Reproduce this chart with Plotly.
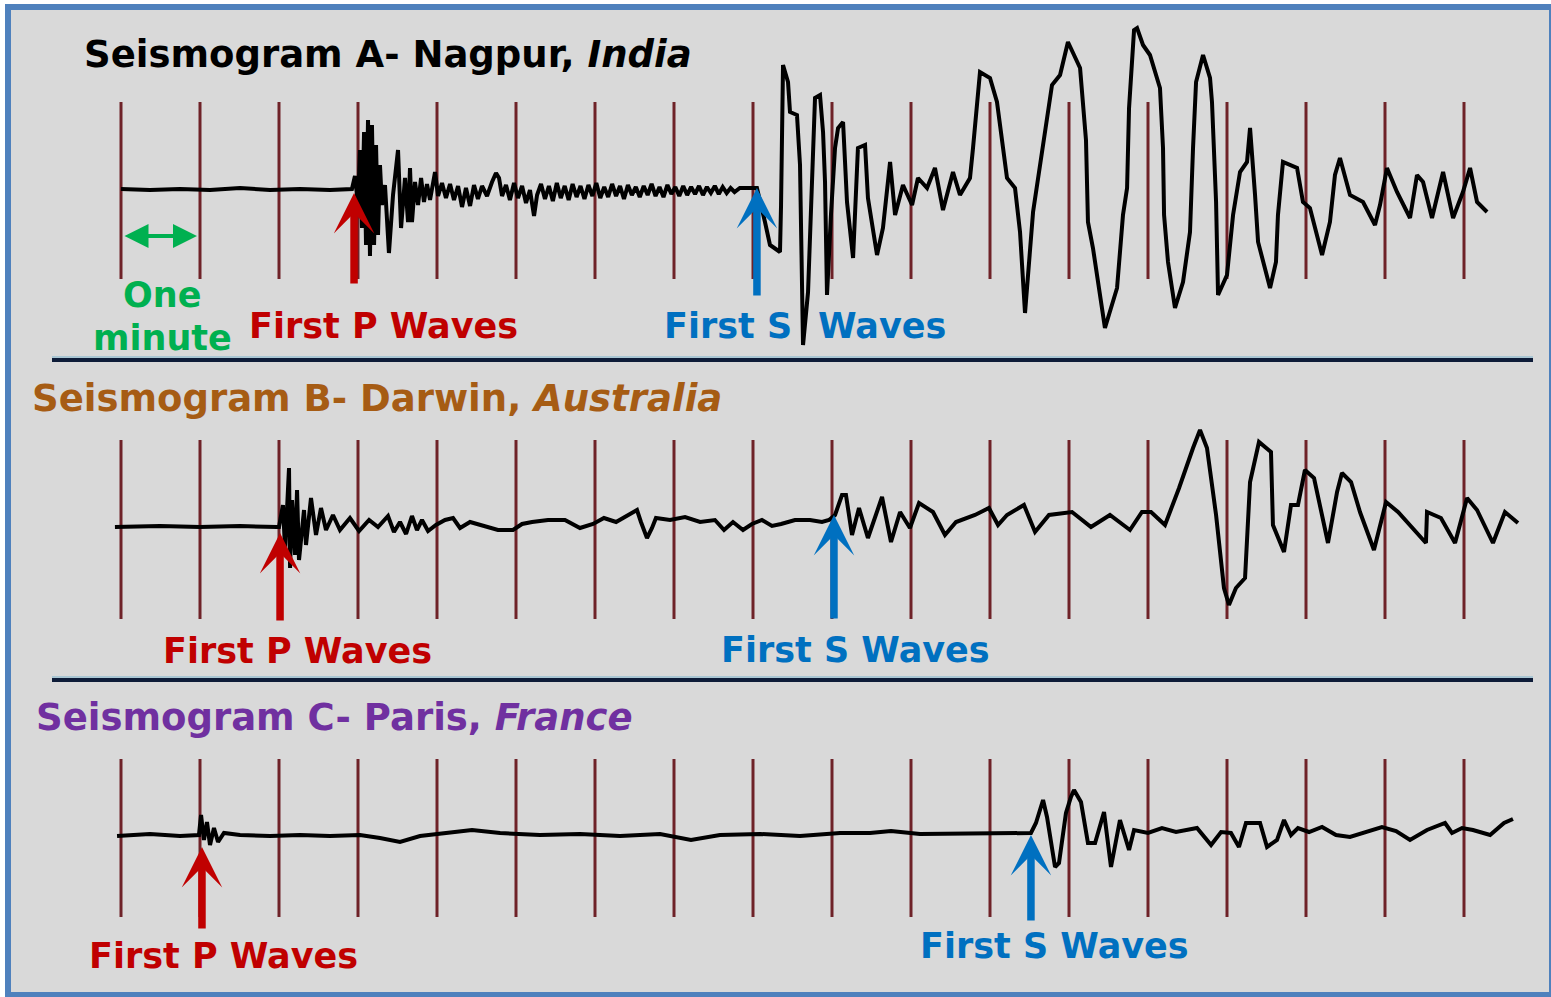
import plotly.graph_objects as go

W, H = 1551, 997

# ---- time axis: seconds after the start of each record, one division per minute
minute_marks = list(range(0, 1021, 60))

# ---- Seismogram A: Nagpur, India (time s, trace amplitude)
a_time = [
    0, 22.0, 44.8, 67.6, 90.4, 113.2, 135.9, 158.7, 175.4, 177.7,
    180.0, 181.5, 183.0, 184.6, 186.1, 187.6, 189.1, 190.6, 192.2, 193.7,
    195.2, 196.7, 198.2, 200.5, 203.5, 206.6, 210.4, 212.7, 215.7, 218.0,
    219.5, 221.0, 223.3, 225.6, 227.9, 230.1, 232.4, 234.7, 238.5, 240.8,
    243.8, 246.8, 249.9, 252.9, 256.0, 259.0, 262.0, 265.1, 268.1, 271.1,
    274.2, 278.0, 281.8, 284.8, 287.1, 289.4, 292.4, 295.4, 298.5, 301.5,
    304.6, 307.6, 310.6, 313.7, 316.0, 319.0, 322, 325, 328, 331,
    334, 337, 340, 343, 346, 349, 352, 355, 358, 361,
    364, 367, 370, 373, 376, 379, 382, 385, 388, 391,
    394, 397, 400, 403, 406, 409, 412, 415, 418, 421,
    424, 427, 430, 433, 436, 439, 442, 445, 448, 451,
    454, 457, 460, 463, 466, 470, 476, 483.0, 489.1, 492.9,
    500.5, 501.3, 502.8, 506.6, 508.1, 513.4, 515.7, 518.0, 521.8, 524.8,
    527.1, 530.9, 533.2, 534.7, 536.2, 539.2, 542.3, 544.6, 548.4, 551.4,
    556.0, 559.7, 565.1, 567.3, 574.2, 578.7, 584.1, 587.9, 593.9, 600.8,
    605.3, 612.2, 618.2, 624.3, 631.9, 637.2, 644.8, 647.1, 652.4, 660.0,
    665.3, 672.9, 679.0, 682.8, 686.6, 692.7, 699.5, 707.1, 713.2, 719.2,
    728.4, 732.9, 734.4, 738.2, 747.3, 756.5, 761.0, 764.1, 765.6, 769.4,
    771.7, 776.2, 781.5, 789.1, 791.4, 792.2, 795.2, 800.5, 806.6, 811.9,
    814.2, 816.5, 821.8, 827.1, 828.6, 831.7, 833.2, 840.0, 844.6, 849.9,
    855.2, 857.5, 861.3, 863.6, 872.7, 877.2, 878.7, 882.5, 893.2, 897.7,
    903.0, 912.2, 918.2, 922.0, 925.8, 933.4, 943.3, 952.4, 956.2, 961.5,
    969.1, 979.0, 984.3, 988.9, 995.7, 1004.1, 1011.7, 1019.2, 1024.6, 1029.9,
    1037.5,
]
a_amp = [
    0, -1, 0, -1, 1, -1, 0, -1, 0, 13,
    -16, 39, -39, 57, -56, 69, -67, 64, -56, 44,
    -46, 24, -16, 4, -64, -6, 39, -39, 11, -33,
    21, -33, 7, -16, 11, -13, 5, -11, 17, -7,
    6, -9, 5, -11, 3, -18, 1, -17, 4, -10,
    3, -7, 7, 16, 11, -7, 4, -11, 6, -9,
    3, -14, -1, -27, -6, 5, -10, 3, -12, 6,
    -9, 3, -11, 5, -8, 3, -10, 4, -7, 6,
    -9, 2, -8, 5, -7, 3, -10, 4, -6, 2,
    -8, 3, -6, 5, -7, 2, -8, 4, -5, 2,
    -7, 3, -6, 2, -5, 3, -6, 2, -4, 3,
    -5, 2, -4, 1, -3, 1, 1, 1, -33, -56,
    -63, -16, 124, 107, 77, 74, 24, -156, -103, 24,
    91, 94, 57, 7, -106, -26, 41, 61, 67, -13,
    -69, 41, 44, -9, -66, -39, 27, -26, 4, -16,
    11, 1, 21, -21, 17, -6, 11, 41, 117, 111,
    87, 11, 1, -43, -124, -23, 34, 104, 114, 147,
    121, 49, -33, -59, -139, -99, -26, 1, 81, 159,
    161, 144, 134, 101, 41, -26, -73, -119, -93, -43,
    41, 107, 134, 111, 87, -13, -106, -86, -26, 17,
    27, 61, -6, -53, -99, -73, -26, 27, 21, -13,
    -19, -66, -33, 14, 31, -6, -13, -36, -16, 21,
    -3, -29, 14, 7, -29, 17, -29, -3, 21, -13,
    -23,
]

# ---- Seismogram B: Darwin, Australia
b_time = [
    -4.6, 29.6, 60.0, 90.4, 118.5, 120.0, 123.0, 124.6, 127.6, 128.4,
    129.9, 132.2, 133.7, 135.2, 139.0, 140.5, 144.3, 148.1, 151.9, 155.7,
    161.0, 166.3, 173.9, 180.8, 188.4, 195.2, 202.8, 207.3, 211.9, 216.5,
    221.0, 224.8, 228.6, 233.2, 239.2, 246.1, 252.2, 257.5, 265.1, 275.7,
    286.3, 297.7, 304.6, 312.2, 324.3, 337.2, 348.6, 358.5, 366.8, 376.0,
    385.1, 391.9, 394.9, 399.5, 403.3, 406.3, 417.0, 428.4, 439.8, 451.1,
    458.0, 464.8, 472.4, 479.2, 486.8, 494.4, 501.3, 511.9, 523.3, 532.4,
    537.7, 542.3, 547.6, 550.6, 555.2, 560.5, 567.3, 578.0, 584.8, 591.7,
    599.2, 606.1, 616.7, 625.8, 634.2, 648.6, 659.2, 666.1, 672.9, 685.8,
    694.2, 704.8, 722.3, 736.7, 751.1, 766.3, 775.4, 782.3, 792.9, 803.6,
    814.2, 819.5, 824.8, 831.7, 837.7, 841.5, 846.8, 853.7, 857.5, 864.3,
    873.4, 874.9, 883.3, 888.6, 893.9, 899.2, 906.1, 916.7, 923.6, 927.3,
    934.2, 941.0, 951.6, 960.8, 969.9, 980.5, 991.1, 991.9, 1002.5, 1013.2,
    1022.3, 1029.9, 1042.0, 1051.1, 1061.0,
]
b_amp = [
    -1, 0, -1, 0, -1, -1, 21, -24, 58, -42,
    26, -29, 36, -34, 16, -19, 28, -9, 18, -4,
    11, -4, 8, -5, 6, -1, 10, -6, 4, -8,
    10, -4, 6, -5, 1, 6, 8, -2, 4, 0,
    -4, -4, 2, 4, 6, 6, -2, 2, 8, 4,
    11, 16, 4, -12, -2, 8, 6, 9, 4, 6,
    -4, 4, -4, 2, 6, 0, 2, 6, 6, 4,
    6, 11, 31, 31, -9, 18, -12, 29, -16, 14,
    -2, 23, 14, -9, 4, 11, 18, 1, 11, 21,
    -6, 11, 14, -1, 11, -4, 14, 14, 1, 38,
    78, 96, 78, 11, -62, -79, -62, -52, 44, 84,
    74, 1, -26, 21, 21, 56, 48, -17, 34, 53,
    44, 14, -24, 24, 14, -2, -17, 14, 8, -17,
    28, 16, -17, 14, 3,
]

# ---- Seismogram C: Paris, France
c_time = [
    -3.0, 22.0, 44.8, 59.2, 60.8, 63.0, 65.3, 67.6, 70.6, 73.7,
    78.2, 90.4, 113.2, 136.0, 158.7, 181.5, 196.7, 211.9, 227.1, 249.9,
    266.6, 287.9, 318.2, 348.6, 379.0, 409.4, 432.9, 454.9, 485.3, 515.7,
    546.1, 568.9, 584.8, 606.8, 637.2, 667.6, 691.1, 694.9, 700.3, 703.3,
    709.4, 712.4, 717.7, 721.5, 723.8, 729.1, 734.4, 739.8, 746.6, 751.9,
    758.7, 765.6, 769.4, 780.0, 790.6, 801.3, 817.2, 827.9, 835.5, 843.0,
    849.1, 854.4, 865.1, 870.4, 878.0, 883.3, 888.6, 893.9, 902.3, 912.2,
    922.8, 933.4, 944.1, 957.7, 968.4, 979.0, 991.9, 1005.6, 1010.9, 1018.5,
    1026.8, 1039.8, 1050.4, 1057.2,
]
c_amp = [
    -1, 1, -1, 0, 20, -5, 13, -10, 7, -7,
    2, 0, -1, 0, -1, 0, -3, -7, -1, 2,
    5, 2, 0, 1, -1, 1, -5, 0, 1, -1,
    2, 2, 4, 1, 1, 2, 2, 12, 35, 18,
    -32, -28, 22, 38, 45, 33, -8, -8, 23, -32,
    15, -15, 5, 2, 7, 3, 7, -10, 3, 2,
    -12, 12, 12, -12, -5, 15, 0, 7, 3, 8,
    0, -2, 2, 8, 4, -5, 5, 12, 2, 7,
    5, 0, 12, 16,
]

# ---- station labels and phase picks (s) with arrow tip / tail amplitudes
stations = ["Nagpur", "Darwin", "Paris"]
countries = ["India", "Australia", "France"]
letters = ["A", "B", "C"]
title_colors = ["#000000", "#a65c14", "#7030a0"]
p_arrival = [177.0, 120.8, 61.5]
p_tip = [-4, -7, -12]
p_tail = [-96, -96, -95]
s_arrival = [483.0, 541.5, 691.1]
s_tip = [1, 11, 0]
s_tail = [-108, -94, -87]

# vertical extent of the minute divisions in each record
div_top = [87, 86, 76]
div_bottom = [-90, -93, -82]

RED = "#c00000"
BLUE = "#0070c0"
GREEN = "#00b050"
DIV = "#6e2228"
BG = "#d9d9d9"
FRAME = "#4f81bd"
NAVY = "#0e1c38"

# pixel bands of the three records (top, bottom, baseline row)
bands = [(0, 360, 189), (360, 680, 526), (680, 997, 835)]

fig = go.Figure()
yrefs = ["y", "y2", "y3"]
traces = [(a_time, a_amp), (b_time, b_amp), (c_time, c_amp)]

for i, (t, amp) in enumerate(traces):
    xs, ys = [], []
    for m in minute_marks:
        xs += [m, m, None]
        ys += [div_top[i], div_bottom[i], None]
    fig.add_trace(go.Scatter(x=xs, y=ys, mode="lines", yaxis=yrefs[i],
                             line=dict(color=DIV, width=3),
                             hoverinfo="skip", showlegend=False))
    fig.add_trace(go.Scatter(x=t, y=amp, mode="lines", yaxis=yrefs[i],
                             line=dict(color="black", width=4),
                             showlegend=False))

# axes: 1 minute = 79 px, record start at x = 121 px
px_per_s = 79 / 60
x_range = [-121 / px_per_s, (W - 121) / px_per_s]
layout_axes = dict(xaxis=dict(range=x_range, domain=[0, 1], visible=False, fixedrange=True))
for i, (top, bot, base) in enumerate(bands):
    key = "yaxis" if i == 0 else f"yaxis{i + 1}"
    layout_axes[key] = dict(range=[base - bot, base - top],
                            domain=[(H - bot) / H, (H - top) / H],
                            visible=False, anchor="x", fixedrange=True)

def px(x):
    return x / W

def py(y):
    return 1 - y / H

shapes = [
    dict(type="rect", xref="paper", yref="paper", x0=px(8), x1=px(1552),
         y0=py(995), y1=py(7), fillcolor=BG, line=dict(color=FRAME, width=6),
         layer="below"),
]
for ysep in (360, 680):
    shapes.append(dict(type="line", xref="paper", yref="paper", x0=px(52), x1=px(1533),
                       y0=py(ysep - 3), y1=py(ysep - 3), line=dict(color="#a9c6d3", width=2)))
    shapes.append(dict(type="line", xref="paper", yref="paper", x0=px(52), x1=px(1533),
                       y0=py(ysep), y1=py(ysep), line=dict(color=NAVY, width=4)))

FONT = "DejaVu Sans"
annotations = []

def label(text, x, y, color, size=35, anchor="left"):
    annotations.append(dict(text=text, x=px(x), y=py(y), xref="paper", yref="paper",
                            xanchor=anchor, yanchor="middle", showarrow=False,
                            borderpad=0,
                            font=dict(family=FONT, size=size, color=color)))

title_pos = [(83, 54), (31, 398), (35, 717)]
for i in range(3):
    label(f"<b>Seismogram {letters[i]}- {stations[i]}, <i>{countries[i]}</i></b>",
          title_pos[i][0], title_pos[i][1], title_colors[i], 37)

label("<b>One</b>", 162, 295, GREEN, 35, "center")
label("<b>minute</b>", 162, 338, GREEN, 35, "center")
label("<b>First P Waves</b>", 248, 326, RED, 35)
label("<b>First S</b>", 663, 326, BLUE, 35)
label("<b>Waves</b>", 817, 326, BLUE, 35)
label("<b>First P Waves</b>", 162, 651, RED, 35)
label("<b>First S Waves</b>", 720, 650, BLUE, 35)
label("<b>First P Waves</b>", 88, 956, RED, 35)
label("<b>First S Waves</b>", 919, 946, BLUE, 35)

# phase arrows
for i in range(3):
    for t0, tip, tail, col in ((p_arrival[i], p_tip[i], p_tail[i], RED),
                               (s_arrival[i], s_tip[i], s_tail[i], BLUE)):
        annotations.append(dict(x=t0, y=tip, ax=t0, ay=tail, xref="x", yref=yrefs[i],
                                axref="x", ayref=yrefs[i], text="", showarrow=True,
                                arrowhead=3, arrowsize=0.9, arrowwidth=7.5,
                                arrowcolor=col, standoff=0))

# one-minute scale bar
annotations.append(dict(x=57.7, y=-47, ax=1.5, ay=-47, xref="x", yref="y",
                        axref="x", ayref="y", text="", showarrow=True,
                        arrowhead=2, startarrowhead=2, arrowside="end+start",
                        arrowsize=1.2, startarrowsize=1.2, arrowwidth=4,
                        arrowcolor=GREEN, standoff=0, startstandoff=0))

fig.update_layout(
    width=W, height=H, autosize=False,
    margin=dict(l=0, r=0, t=0, b=0),
    paper_bgcolor="white", plot_bgcolor="rgba(0,0,0,0)",
    shapes=shapes, annotations=annotations, showlegend=False,
    **layout_axes,
)

fig.write_html("out.html", config={"displayModeBar": False})
